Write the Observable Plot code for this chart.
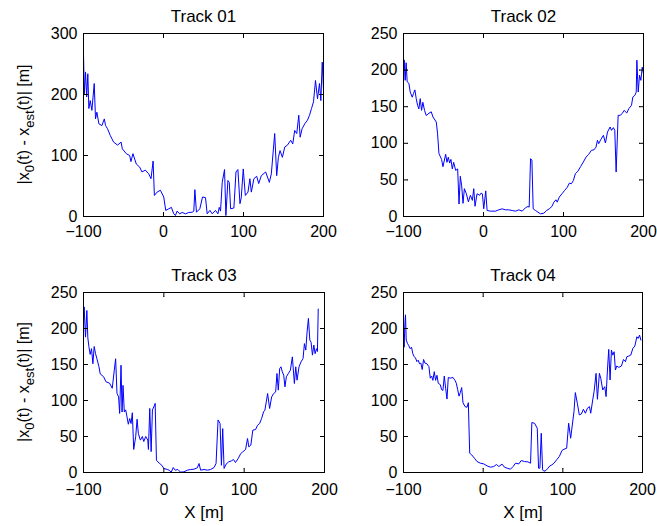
<!DOCTYPE html>
<html><head><meta charset="utf-8">
<script src="https://cdn.jsdelivr.net/npm/d3@7"></script>
<script src="https://cdn.jsdelivr.net/npm/@observablehq/plot@0.6"></script>
<style>
html,body{margin:0;padding:0;background:#fff;}
#root{position:relative;width:657px;height:526px;font-family:"Liberation Sans",Arial,sans-serif;}
#root svg{position:absolute;overflow:visible;}
</style></head><body><div id="root"></div>
<script>
const titles = ["Track 01", "Track 02", "Track 03", "Track 04"];
const xTicks = [-100, 0, 100, 200];
const yTicksTrack01 = [0, 100, 200, 300];
const yTicksOther = [0, 50, 100, 150, 200, 250];
const xLabel = "X [m]";

const track01 = [[-100,267],[-99,201],[-97.5,237],[-96,196],[-94.6,234],[-93.3,177],[-91.6,190],[-89.5,174],[-86.6,218],[-85,160],
[-83.3,171],[-80.8,152],[-77,149],[-74,160],[-72.4,149],[-70,144],[-66.6,133],[-62.4,122],[-57.4,117],[-53,122],
[-51.5,111],[-46.5,103],[-42.3,100],[-40.7,90],[-38.2,103],[-34,86],[-29.8,81],[-26.9,73],[-22.7,76],[-18.5,70],
[-15.6,62],[-13,91],[-11.4,34.5],[-8,40],[-3.9,43],[0.3,32],[2.8,10],[6.6,12.6],[9.9,15],[12.8,4.4],
[14.9,1.6],[17,8.8],[20.3,4.4],[23.3,6.6],[27.5,4.4],[31.6,6.6],[35.8,7],[37.9,8.8],[39.2,44],[41.2,7],
[45.4,12.6],[48.8,32],[52.5,31],[54.6,4.4],[58,10],[60.9,4.4],[65,10],[68,4.4],[69.7,15],[71.3,8.8],
[73.4,56],[76.3,77],[78,1.6],[80.5,59],[82.2,56],[83.9,12.6],[88,14],[90.6,73],[93,77],[95.6,21],
[97.2,31],[99.7,78],[102.3,34.5],[105.6,40],[108,62],[109.8,40],[113,62],[116.5,66],[119,54],[122.3,67],
[127.7,73],[132.3,56],[134.8,70],[139,136],[141.5,67],[143.6,97],[145.7,108],[148.6,97],[151.6,114],[154.9,117],
[159,125],[161.6,119],[164,141],[166.6,136],[169.1,166],[170.8,130],[173.3,144],[176.6,152],[180,158],[182.5,166],
[185,177],[187.5,188],[190,223],[192.5,193],[195,218],[196.7,190],[198.4,253],[200,207]];

const track02 = [[-100,186],[-99.2,214],[-97.9,186],[-96.7,210],[-95.4,184],[-93.3,182],[-91.6,170],[-89.1,163],[-87.5,168],[-85.8,173],
[-84.1,161],[-82.4,152],[-80.8,147],[-79.1,161],[-77.4,145],[-75.8,156],[-73.7,145],[-71.6,138],[-68.2,141],[-65.3,143],
[-63.2,136],[-59,129],[-57.4,113],[-55.7,86],[-52.4,78],[-50.7,68],[-47.3,85],[-45.7,74],[-44,81],[-42.3,73],
[-40.7,78],[-39,65],[-37.3,74],[-34.8,63],[-32.3,65],[-30.6,17],[-29,55],[-27.3,42],[-25.6,18],[-23.9,38],
[-21.4,31],[-18.9,20],[-16.4,29],[-13.9,22],[-12.2,38],[-10.6,14],[-8.1,31],[-4.7,29],[-3,32],[-1.4,31],
[0.3,10.5],[2.8,35],[4.5,8.2],[8.7,7.3],[14.9,7.3],[19.1,9.1],[23.3,10.5],[27.5,9.1],[31.6,9.1],[35.8,8.2],
[40,7.3],[44.2,9.1],[48.4,7.3],[52.5,12],[55.5,13.7],[57.1,12.8],[58.8,79],[60.5,77],[62.1,10.5],[65,8.2],
[68,5.9],[71.3,3.6],[75.5,4.6],[78.9,8.2],[82.2,10.5],[85.5,13.7],[88,19.6],[90.6,22.8],[92.2,19.6],[94.7,26.5],
[98.1,31],[101.4,35.6],[104.8,40],[107.3,45.6],[109.8,44.7],[112.3,49],[114.8,58.4],[118.1,62],[121.5,68.4],[124.8,74.4],
[128.2,81.2],[131.5,84.9],[134.8,90.3],[138.2,91.2],[140.7,94.9],[142.4,104],[144,99.5],[146.6,105],[149.9,110.9],[152.4,100.4],
[155,115.4],[158.3,122.3],[160,117.7],[162.4,121.4],[164.1,117.7],[165.8,60.7],[168.3,138.2],[170.8,138.2],[173.3,140.5],[175.8,145],
[179.1,141.4],[181.7,147.4],[185,152],[186.7,163.3],[189.2,165.6],[190.9,170],[191.7,213.5],[193.4,170],[195,193],[196.7,186],
[198.4,204],[200,195]];

const track03 = [[-100,207],[-99.2,230],[-97.5,188],[-95.8,225],[-94.6,187],[-93.3,175],[-91.7,164],[-90,172],[-88.3,151],[-86.7,175],
[-85,165],[-83.3,158],[-80.8,147],[-79.2,137],[-75,133],[-72,126],[-67.5,124],[-64.2,117],[-61.7,142],[-60,158],
[-58.3,110],[-56.3,105],[-55,82],[-53.3,149],[-52,84],[-50.8,121],[-49.2,84],[-47.5,87],[-45.8,77],[-44.2,67],
[-42.5,75],[-40.8,68],[-39.2,83],[-37.5,32],[-35,50],[-33.3,74],[-31.7,54],[-29.2,45],[-26.7,50],[-25,43],
[-22.5,50],[-20,45],[-19.2,32],[-17.5,89],[-15.8,29],[-14.2,87],[-12.5,91],[-10.8,96],[-9.2,17],[-5.8,13],
[-2.5,10],[0,5.6],[4.2,4.2],[6.7,3.2],[9.2,0.5],[11.7,6.9],[14.2,3.2],[17.5,4.2],[20.8,0.5],[25,0.9],
[29.2,3.2],[33.3,4.2],[37.5,4.6],[41.7,6.5],[43.8,12.5],[45.8,3.2],[50,4.2],[54.2,3.2],[58.3,4.2],[62.5,6.9],
[65,12.5],[67.5,73],[70,68],[71.7,10],[73.3,61],[75,5.6],[77.5,11.6],[80.8,14.8],[84.2,16.2],[86.7,18],
[89.2,13.9],[92.5,19.4],[95.8,26.4],[98.3,28.7],[101.7,31.9],[104.2,47.2],[105.8,35.6],[108.3,38],[110.8,58.8],[114.2,59.7],
[116.7,65.7],[119.2,68],[121.7,75],[124.2,84.3],[125.8,86.6],[127.5,98],[129.2,109.7],[131.7,88.9],[134.2,105],[136.7,109.7],
[139.2,112],[140.8,137.5],[142.5,114.4],[144.2,144.4],[145.8,146.8],[147.5,139.8],[149.2,135.2],[150.8,119],[152.5,132.9],[155,137.5],
[157.5,142],[160,160.6],[162.5,123.6],[164.2,146.8],[165.8,128.2],[168.3,146.8],[170.8,153.7],[173.3,158.3],[175,179],[176.7,170],
[178.3,195],[180,214],[181.7,184],[183.3,181],[185,163],[186.7,177],[188.3,165],[190,172],[191.2,168],[192.2,227]];

const track04 = [[-100,193],[-99.2,174],[-98.3,205],[-97.5,219],[-96.6,184],[-94.9,179],[-93.3,176],[-91.6,172],[-89.9,174],[-88.3,165],
[-86.6,161],[-84.9,159],[-83.2,154],[-81.5,156],[-79.9,151],[-78.2,152],[-76.5,143],[-74.8,157],[-73.1,152],[-70.6,151],
[-68.1,147],[-66.4,131],[-64.7,134],[-63.1,128],[-61.4,140],[-59.7,128],[-58,135],[-56.4,124],[-53.8,122],[-52.2,115],
[-50.5,114],[-48.8,134],[-47.1,117],[-45.4,102],[-43.8,132],[-41.3,131],[-37.9,132],[-35.4,128],[-33.7,124],[-32,115],
[-30.3,106],[-28.7,111],[-27,118],[-25.3,97],[-22.8,91.5],[-20.3,90.6],[-18.6,97],[-16.9,26.8],[-14.4,24.5],[-11,19.9],
[-7.7,15.2],[-3.5,12.9],[0.7,12],[4.9,9.2],[9.1,7.4],[13.3,8.3],[16.7,11.1],[19.6,8.3],[23.8,11.6],[26.7,7.4],
[30.1,6],[34.3,4.6],[37.6,8.3],[40.6,12.9],[44.8,12],[47.7,16.6],[51.9,15.2],[56.1,14.8],[59.5,12.9],[61.1,69.3],
[64.5,68.4],[67.9,61.5],[69.5,6],[71.2,6],[72.9,54.5],[74.6,3.7],[76.2,1.8],[78.8,2.8],[81.3,6],[83.8,9.2],
[86.3,10.6],[88.8,12.9],[92.2,17.6],[95.6,22.2],[98.9,30.5],[101.4,32.3],[104.8,33.7],[107.3,68.4],[109.8,47.6],[114,84.6],
[115.7,111],[118.2,96.1],[120.7,80],[123.3,81.3],[125.8,87.8],[128.3,82.3],[130.8,89.2],[133.4,91.5],[135,82.3],[137.5,100.7],
[139.2,112.3],[141.7,137.7],[143.4,101.7],[145.9,137.7],[147.6,130.8],[150.1,114.6],[152.6,119.2],[154.3,105.4],[156,142.3],[157.6,171],
[159.3,128.5],[161,170],[162.7,163],[164.4,167.7],[166,142.3],[167.7,147.9],[170.2,146],[173.6,147.9],[176.1,157],[178.6,153.9],
[180.3,160.8],[182.8,161.7],[185.3,163.1],[187.9,172.4],[190.4,175.6],[192.9,188.5],[194.6,186.2],[196.3,190.8],[198,183.9]];

const tracks = [track01, track02, track03, track04];
const yTickSets = [yTicksTrack01, yTicksOther, yTicksOther, yTicksOther];

// layout of the four panels (pixels)
const layout = [
  {left:0,   top:0,   width:330, height:260, mL:83, mR:7,  mT:33, mB:44, pad:9,  ylab:true,  xlab:false},
  {left:330, top:0,   width:327, height:260, mL:73, mR:14, mT:33, mB:44, pad:9,  ylab:false, xlab:false},
  {left:0,   top:260, width:330, height:266, mL:83, mR:6,  mT:32, mB:54, pad:11, ylab:true,  xlab:true},
  {left:330, top:260, width:327, height:266, mL:73, mR:15, mT:32, mB:54, pad:11, ylab:false, xlab:true}
];

const root = document.getElementById("root");
const FONT = "'Liberation Sans', Arial, sans-serif";

tracks.forEach((tr, k) => {
  const L = layout[k];
  const yT = yTickSets[k];
  const yMin = yT[0], yMax = yT[yT.length - 1];
  const xMin = xTicks[0], xMax = xTicks[xTicks.length - 1];
  const data = tr.map(([x, y]) => ({x, y}));
  const tick = {length: 4, r: 0, anchor: "start", stroke: "black", strokeWidth: 1};
  const marks = [
    Plot.line(data, {x: "x", y: "y", stroke: "#0000ff", strokeWidth: 1}),
    Plot.frame({stroke: "black", strokeWidth: 1}),
    Plot.vector(xTicks, {x: d => d, y: () => yMin, rotate: 0, ...tick}),
    Plot.vector(xTicks, {x: d => d, y: () => yMax, rotate: 180, ...tick}),
    Plot.vector(yT, {y: d => d, x: () => xMin, rotate: 90, ...tick}),
    Plot.vector(yT, {y: d => d, x: () => xMax, rotate: -90, ...tick}),
    Plot.axisX(xTicks, {anchor: "bottom", tickSize: 0, tickPadding: L.pad, fontSize: 16, label: null, fill: "black"}),
    Plot.axisY(yT, {anchor: "left", tickSize: 0, tickPadding: 6, fontSize: 16, label: null, fill: "black"}),
    Plot.text([titles[k]], {frameAnchor: "top", dy: -12, lineAnchor: "bottom", fontSize: 17, fill: "black"})
  ];
  if (L.xlab) marks.push(Plot.text([xLabel], {frameAnchor: "bottom", dy: 45, lineAnchor: "bottom", fontSize: 17, fill: "black"}));
  const chart = Plot.plot({
    width: L.width, height: L.height,
    marginLeft: L.mL, marginRight: L.mR, marginTop: L.mT, marginBottom: L.mB,
    x: {domain: [xMin, xMax]},
    y: {domain: [yMin, yMax]},
    style: {fontFamily: FONT, fontSize: "16px", overflow: "visible", background: "transparent", color: "black"},
    marks
  });
  chart.style.left = L.left + "px";
  chart.style.top = L.top + "px";
  if (L.ylab) {
    const cy = L.mT + (L.height - L.mT - L.mB) / 2;
    const t = d3.select(chart).append("text")
      .attr("transform", `translate(29,${cy}) rotate(-90)`)
      .attr("text-anchor", "middle")
      .attr("font-size", 16).attr("fill", "black").attr("font-family", FONT);
    t.append("tspan").text("|x");
    t.append("tspan").attr("font-size", 13).attr("dy", 5).text("0");
    t.append("tspan").attr("dy", -5).text("(t) - x");
    t.append("tspan").attr("font-size", 13).attr("dy", 5).text("est");
    t.append("tspan").attr("dy", -5).text("(t)| [m]");
  }
  root.appendChild(chart);
});
</script>
</body></html>
